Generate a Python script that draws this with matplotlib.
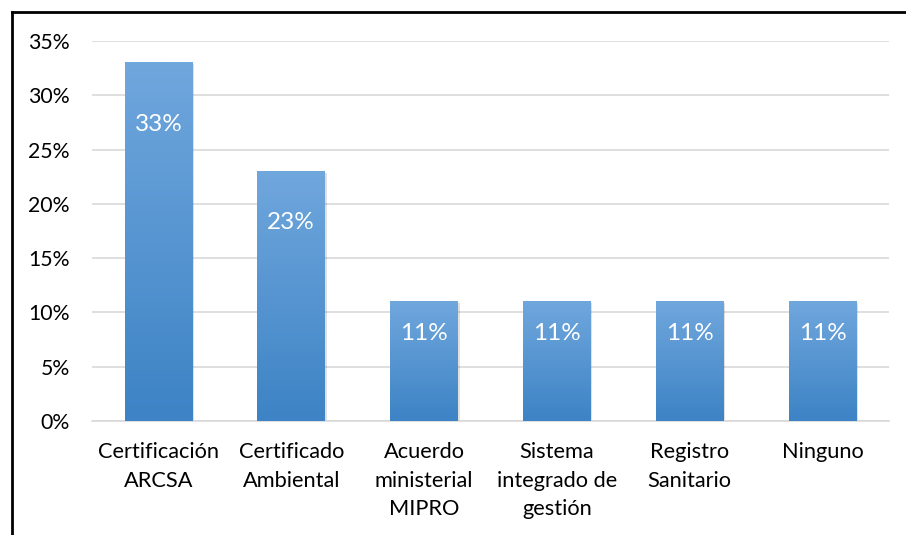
import numpy as np
import matplotlib.pyplot as plt
from matplotlib.lines import Line2D
from matplotlib.colors import LinearSegmentedColormap

categorias = ['Certificación\nARCSA', 'Certificado\nAmbiental', 'Acuerdo\nministerial\nMIPRO',
              'Sistema\nintegrado de\ngestión', 'Registro\nSanitario', 'Ninguno']
valores = [33, 23, 11, 11, 11, 11]
ticks_y = [0, 5, 10, 15, 20, 25, 30, 35]

plt.rcParams['font.family'] = ['Lato', 'DejaVu Sans']

fig = plt.figure(figsize=(9.06, 5.35), dpi=100)
ax = fig.add_axes([0.1015, 0.2131, 0.8797, 0.7103])

x = np.arange(len(valores))
ancho = 0.51
bars = ax.bar(x, valores, width=ancho, color='none', zorder=3)

# degradado vertical en cada barra
grad = np.linspace(0, 1, 256).reshape(-1, 1)
cmap = LinearSegmentedColormap.from_list('azul', ['#3d83c5', '#70a7dd'])
for b in bars:
    x0, w, h = b.get_x(), b.get_width(), b.get_height()
    # sombra sutil
    ax.bar(x0 + w / 2 + 0.012, h, width=w, bottom=-0.15, color='#000000', alpha=0.12, zorder=2)
    ax.imshow(grad, extent=[x0, x0 + w, 0, h], origin='lower', cmap=cmap,
              aspect='auto', zorder=4)

# desplazamiento de la etiqueta bajo el extremo de la barra (píxeles)
desplaz = [-62, -51, -32, -32, -32, -32]
for xi, v, d in zip(x, valores, desplaz):
    ax.annotate(f'{v}%', (xi, v), xytext=(0, d * 0.72), textcoords='offset points',
                ha='center', va='center', color='white', fontsize=17.5, zorder=5)

ax.set_xlim(-0.5, len(valores) - 0.5)
ax.set_ylim(0, 35)
ax.set_yticks(ticks_y)
ax.set_yticklabels([f'{t}%' for t in ticks_y], fontsize=15.3)
ax.set_xticks(x)
ax.set_xticklabels(categorias, fontsize=15.7, linespacing=1.55, va='top')
ax.tick_params(axis='y', length=0, pad=16, colors='#000000')
ax.tick_params(axis='x', length=0, pad=15, colors='#000000')
ax.grid(axis='y', color='#d9d9d9', linewidth=1.2, zorder=0)
ax.set_axisbelow(True)
for s in ['top', 'right', 'left']:
    ax.spines[s].set_visible(False)
ax.spines['bottom'].set_color('#d9d9d9')
ax.spines['bottom'].set_linewidth(1.2)

# marco del gráfico (lados izquierdo y superior visibles)
fig.add_artist(Line2D([12 / 906, 12 / 906], [0, 1 - 12 / 535], color='black', lw=2))
fig.add_artist(Line2D([12 / 906, 1], [1 - 12 / 535, 1 - 12 / 535], color='black', lw=2))

fig.savefig('out.png', dpi=100)
